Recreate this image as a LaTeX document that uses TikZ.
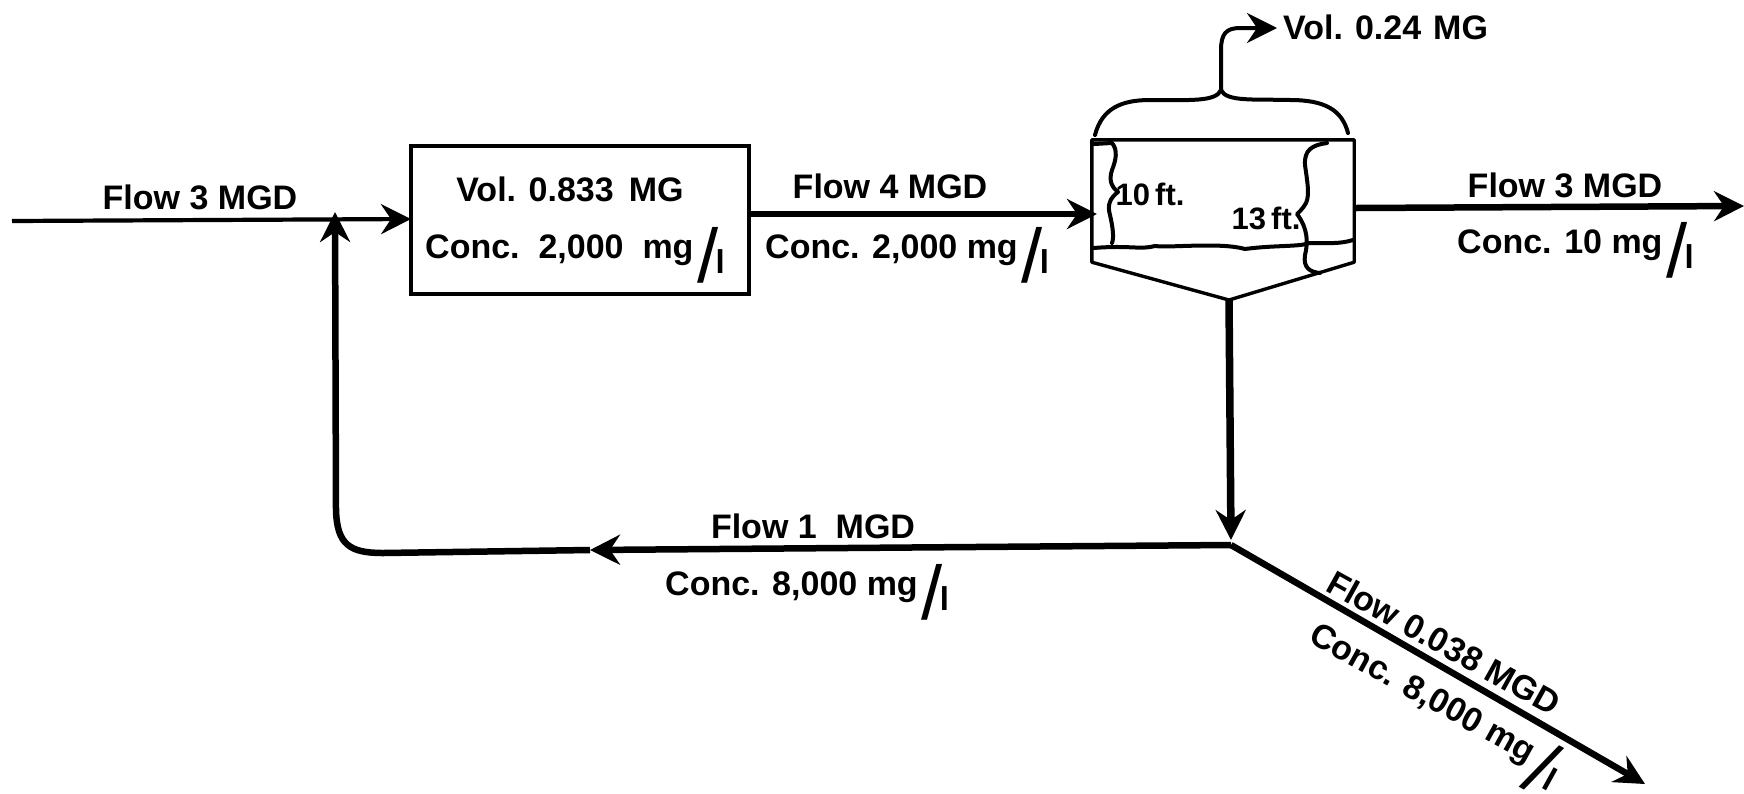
\documentclass[tikz,border=0pt]{standalone}
\usepackage{fontspec}
\setmainfont{Liberation Sans}
\usetikzlibrary{arrows.meta}
\newcommand{\mgl}{mg\kern4pt\raisebox{-24pt}{\fontsize{76}{76}\selectfont\mdseries /}\kern-3pt\raisebox{-15pt}{\fontsize{33}{33}\selectfont l}}
\tikzset{
  x=1pt,y=-1pt,
  lbl/.style={font=\fontsize{34}{38}\selectfont\bfseries,inner sep=0pt,text=black},
  ftlbl/.style={font=\fontsize{31}{34}\selectfont\bfseries,inner sep=0pt},
  vessel/.style={draw=black,line width=3.4pt,inner sep=0pt,fill=none},
  thinflow/.style={draw=black,line width=4.2pt},
  flow/.style={draw=black,line width=6.5pt},
  wig/.style={draw=black,line width=4pt,line cap=round,line join=round},
  tipA/.style={-{Stealth[length=30pt,width=30pt,inset=10pt]}},
}
\begin{document}
\begin{tikzpicture}
\useasboundingbox[fill=white] (0,0) rectangle (1744,793);
% vessels
\node[vessel,minimum width=338pt,minimum height=148pt] (aer) at (580,220) {};
\node[inner sep=0pt,minimum width=262pt,minimum height=122pt] (tank) at (1223,201) {};
\coordinate (apex) at (1229,300);
\draw[vessel,line join=round] (apex) -- (tank.south west) -- (tank.north west) -- (tank.north east) -- (tank.south east) -- cycle;
% junctions and bends
\coordinate (start) at (12,221);
\coordinate (merge) at (335,212);
\coordinate (aerin) at (411,219);
\coordinate (aerout) at (749,214);
\coordinate (tankin) at (1097,214);
\coordinate (tankout) at (1356,208);
\coordinate (effl) at (1744,206);
\coordinate (junc) at (1231,545);
\coordinate (recmid) at (590,550);
\coordinate (bend) at (383,553);
\coordinate (wasteend) at (1645,784);
\coordinate (gasbase) at (1221,90);
\coordinate (gasend) at (1277,28);
\coordinate (sludgemid) at (1231,540);
% connectors
\draw[thinflow,tipA] (start) -- (aerin);
\draw[flow,tipA] (aerout) -- (tankin);
\draw[flow,tipA] (tankout) -- (effl);
\draw[flow,line width=7.5pt,tipA] (apex) -- (sludgemid);
\draw[flow,tipA] (junc) -- (recmid);
\draw[flow,line join=round] (recmid) -- (bend) .. controls (350,553) and (337,545) .. (336,510);
\draw[flow,tipA] (336,510) -- (merge);
\draw[flow,tipA] (junc) -- (wasteend);
% gas brace
\draw[wig,tipA] (gasbase) -- (1221,50) .. controls (1221,34) and (1226,28) .. (1240,28) -- (gasend);
\draw[wig] (1095,135) .. controls (1102,108) and (1122,100) .. (1150,100)
  .. controls (1190,100) and (1216,102) .. (gasbase)
  .. controls (1226,102) and (1255,99) .. (1290,100)
  .. controls (1325,100) and (1342,110) .. (1348,133);
% depth braces
\draw[wig] (1094,144) -- (1112,143) .. controls (1118,150) and (1116,160) .. (1112,170)
  .. controls (1108,182) and (1113,188) .. (1118,192)
  .. controls (1110,198) and (1107,205) .. (1110,215) .. controls (1113,228) and (1114,238) .. (1112,243);
\draw[wig] (1094,248) .. controls (1130,245) and (1140,250) .. (1155,246)
  .. controls (1170,248) and (1220,242) .. (1245,249)
  .. controls (1275,245) and (1300,247) .. (1309,243)
  .. controls (1330,243) and (1340,244) .. (1353,240);
\draw[wig] (1327,143) .. controls (1312,145) and (1304,150) .. (1305,165)
  .. controls (1307,180) and (1310,195) .. (1306,203)
  .. controls (1302,210) and (1298,213) .. (1297,214)
  .. controls (1303,222) and (1310,235) .. (1305,255)
  .. controls (1303,268) and (1310,272) .. (1320,273);
% labels
\node[lbl] (t1) at (200,197) {Flow 3 MGD};
\node[lbl] (t2) at (570,189) {Vol. 0.833\ \,MG};
\node[lbl,anchor=base west] (t3) at (425,258) {Conc.\ \ 2,000\ \ \mgl};
\node[lbl] (t4) at (890,186) {Flow 4 MGD};
\node[lbl,anchor=base west] (t5) at (765,258) {Conc. 2,000 \mgl};
\node[lbl,anchor=west] (t6) at (1283,27) {Vol.\hspace{12pt}0.24\hspace{12pt}MG};
\node[ftlbl] (t7) at (1150,194) {10\,ft.};
\node[ftlbl] (t8) at (1266,218) {13\,ft.};
\node[lbl] (t9) at (1565,185) {Flow 3 MGD};
\node[lbl,anchor=base west] (t10) at (1457,253) {Conc. 10 \mgl};
\node[lbl] (t11) at (813,526) {Flow 1\ \ MGD};
\node[lbl,anchor=base west] (t12) at (665,595) {Conc. 8,000 \mgl};
\node[lbl,rotate=-29,anchor=base west] (t13) at (1324,590) {Flow 0.038 MGD};
\node[lbl,rotate=-29,anchor=base west] (t14) at (1307,641) {Conc. 8,000 \mgl};
\end{tikzpicture}
\end{document}
